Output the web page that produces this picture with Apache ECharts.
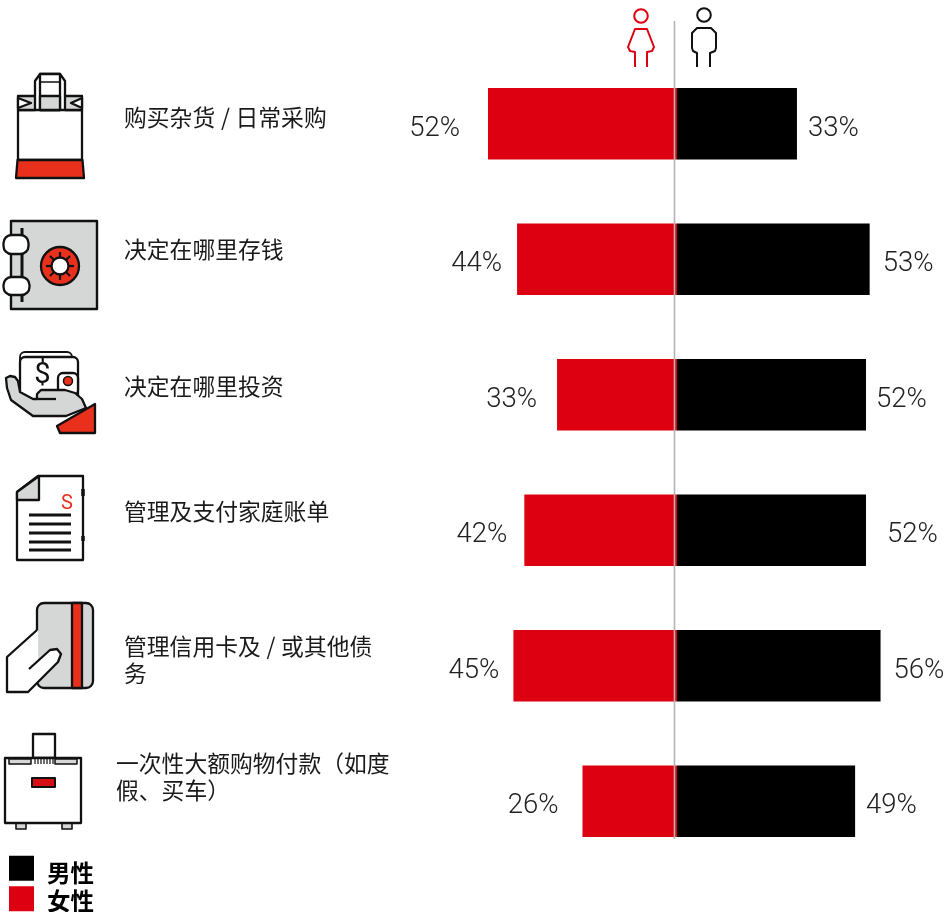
<!DOCTYPE html>
<html><head><meta charset="utf-8">
<style>html,body{margin:0;padding:0;background:#fff}#c{width:944px;height:912px}</style>
<script src="https://cdn.jsdelivr.net/npm/echarts@6/dist/echarts.min.js"></script>
</head><body><div id="c"></div>
<script>
const categories = ['购买杂货 / 日常采购','决定在哪里存钱','决定在哪里投资','管理及支付家庭账单','管理信用卡及 / 或其他债务','一次性大额购物付款（如度假、买车）'];
const femaleValues = [52,44,33,42,45,26];
const maleValues = [33,53,52,52,56,49];
const seriesNames = ['男性','女性'];

// layout, kept apart from the data
const femaleGaps = [28,15,20,17,14,24];
const maleGaps = [11,13,10,21,13,11];
const catX = [124,124,124,124,124,116];
const catY = [117,249,386,511,646,763];
const catBreak = [0,0,0,0,13,12];

const RED='#dc0011', IRED='#e8301c', GR='#d5d7d6', K='#111';
const Z=20;
const base=(fill,stroke,lw)=>({fill:fill||'none',stroke:stroke||K,lineWidth:lw==null?2.3:lw,lineJoin:'round'});
const rect=(x,y,w,h,fill,r,lw)=>({type:'rect',z:Z,shape:{x,y,width:w,height:h,r:r||0},style:base(fill||'#fff',K,lw)});
const poly=(points,fill,lw)=>({type:'polygon',z:Z,shape:{points},style:base(fill||'#fff',K,lw)});
const patch=(points,fill)=>({type:'polygon',z:Z,shape:{points},style:{fill:fill,stroke:'none'}});
const pl=(points,stroke,lw)=>({type:'polyline',z:Z,shape:{points},style:base('none',stroke,lw)});
const circ=(cx,cy,r,fill,stroke,lw)=>({type:'circle',z:Z,shape:{cx,cy,r},style:base(fill||'#fff',stroke,lw)});
const txt=(x,y,t,fs,fill,weight)=>({type:'text',z:Z,x,y,style:{text:t,fontSize:fs,fill:fill||'#222',fontFamily:'Roboto',fontWeight:weight||300,align:'center',verticalAlign:'middle'}});

const icons=[
 // bag
 poly([[18,110],[82,110],[82,160],[18,160]]),
 poly([[18,96],[35,96],[35,110],[18,110]],GR),
 poly([[18,98],[31,103],[18,108]]),
 poly([[65,96],[82,96],[82,110],[65,110]],GR),
 poly([[82,98],[71,103],[82,108]]),
 pl([[35,96],[35,81],[40,74],[60,74],[65,81],[65,96]]),
 rect(40,74,20,36,'#fff',0),
 rect(40,96,20,14,GR,0),
 pl([[40,82],[60,82]],K,1.5),
 poly([[17.5,160],[82.5,160],[84,178],[16,178]],IRED),
 // safe
 rect(11,221,86,88,GR,0,2.4),
 pl([[22,228],[22,302]],K,3),
 rect(3.5,235,25,19,'#fff',8),
 rect(3.5,277,26,18,'#fff',8),
 circ(60,266,19,IRED,K,2.3),
 ...[[60,252,60,257],[60,275,60,280],[46,266,51,266],[69,266,74,266],[50,256,54,260],[66,272,70,276],[70,256,66,260],[54,272,50,276]].map(a=>pl([[a[0],a[1]],[a[2],a[3]]],K,2.2)),
 circ(60,266,8.5,'#fff',K,2.3),
 // wallet and hand
 rect(20,352,52,40,'#fff',5,1.8),
 rect(20,357,58,44,'#fff',5,2.3),
 txt(42.5,376,'$',29,K,400),
 rect(58,373,20,22,'#fff',5,2.3),
 circ(68,381,4.5,IRED,K,1.5),
 poly([[6,378],[10,376],[15,377],[18,381],[20,392],[33,399],[37,399],[37,394],[41,390],[65,390],[75,393],[82,399],[86,408],[66,416],[33,416],[11,400],[7,388]],GR),
 pl([[37,399],[56,399]],K,2.3),
 poly([[95,404],[95,433],[60,433],[57,426]],IRED),
 // bill
 poly([[17,492],[38,476],[83,476],[83,560],[17,560]],'#fff'),
 poly([[17,492],[39,476],[39,500],[17,500]],GR),
 pl([[83,489],[83,496]],K,3.5),
 pl([[83,536],[83,541]],K,3.5),
 txt(67,504,'S',20,IRED,400),
 ...[515,524,533,542,550].map(y=>pl([[29,y],[71,y]],K,3)),
 // card
 rect(37,603,56,85,GR,7),
 rect(72,603,10,85,IRED,0),
 patch([[37,630],[7,657],[7,692],[28,692],[58,662],[61,654],[57,649],[50,650],[38.5,661],[38.5,631]],'#fff'),
 pl([[37,630],[7,657],[7,692],[28,692],[58,662],[61,654],[57,649],[50,650],[29,669]]),
 // suitcase
 rect(16,823,10,6,GR,0,1.6),
 rect(62,823,10,6,GR,0,1.6),
 rect(33,734,22,24,'#fff',0),
 rect(5,758,76,65,'#fff',0),
 rect(9,759,22,5,GR,0,1.5),
 rect(55,759,22,5,GR,0,1.5),
 ...[35,38,41,44,47,50,53].map(x=>pl([[x,759],[x,764]],K,1.2)),
 rect(32,778,23,9,'#d60f14',0,2),
];

const people=[
 {type:'circle',z:Z,shape:{cx:641,cy:16,r:6.8},style:base('#fff',RED,2)},
 {type:'polyline',z:Z,shape:{points:[[635,67],[635,52],[630,51],[628,47],[635,29],[647,29],[654,47],[652,51],[647,52],[647,67]]},style:base('none',RED,2)},
 {type:'circle',z:Z,shape:{cx:704,cy:15,r:6.8},style:base('#fff','#111',2)},
 {type:'polyline',z:Z,shape:{points:[[697,67],[697,53],[693,51],[692,48],[692,33],[697,28],[711,28],[716,33],[716,48],[715,51],[710,53],[710,67]]},style:base('none','#111',2)},
];
const centerLine={type:'line',z:Z+1,shape:{x1:674.5,y1:21,x2:674.5,y2:839},style:{stroke:'#b4b4b4',lineWidth:1.6}};

const wrapCat=(c,n)=>{const s=c.replace(/ /g,'\u2005');return n?s.slice(0,n)+'\n'+s.slice(n):s;};
const catTexts=categories.map((c,i)=>({type:'text',z:Z,x:catX[i],y:catY[i]-13,style:{text:wrapCat(c,catBreak[i]),fontSize:22.8,lineHeight:27,fill:'#1a1a1a',fontFamily:'"Noto Sans CJK SC"'}}));

const fmt=p=>Math.abs(p.value)+'%';
const labelFont={show:true,fontSize:27.5,fontWeight:300,color:'#222',fontFamily:'Roboto',formatter:fmt,offset:[0,5]};
const chart=echarts.init(document.getElementById('c'),null,{renderer:'canvas'});
chart.setOption({
 animation:false,
 backgroundColor:'#fff',
 grid:{left:386.2,top:56,width:545.25,height:813,containLabel:false},
 xAxis:{type:'value',min:-80,max:70,show:false},
 yAxis:{type:'category',data:categories,inverse:true,show:false},
 legend:{left:9,top:852,height:120,orient:'vertical',align:'left',itemWidth:25,itemHeight:25,itemGap:0,padding:0,selectedMode:false,icon:'rect',
   data:[{name:seriesNames[0]},{name:seriesNames[1],textStyle:{lineHeight:5}}],
   formatter:n=>'\n'+n,
   textStyle:{fontSize:23.5,lineHeight:9,fontWeight:'bold',color:'#000',fontFamily:'"Noto Sans CJK SC"',padding:[0,0,0,8]}},
 series:[
  {name:seriesNames[0],type:'bar',barWidth:71.5,barGap:'-100%',itemStyle:{color:'#000'},
   data:maleValues.map((v,i)=>({value:v,label:Object.assign({},labelFont,{position:'right',distance:maleGaps[i]})}))},
  {name:seriesNames[1],type:'bar',barWidth:71.5,barGap:'-100%',itemStyle:{color:RED},
   data:femaleValues.map((v,i)=>({value:-v,label:Object.assign({},labelFont,{position:'left',distance:femaleGaps[i]})}))}
 ],
 graphic:{elements:[...icons,...people,centerLine,...catTexts]}
});
</script></body></html>
